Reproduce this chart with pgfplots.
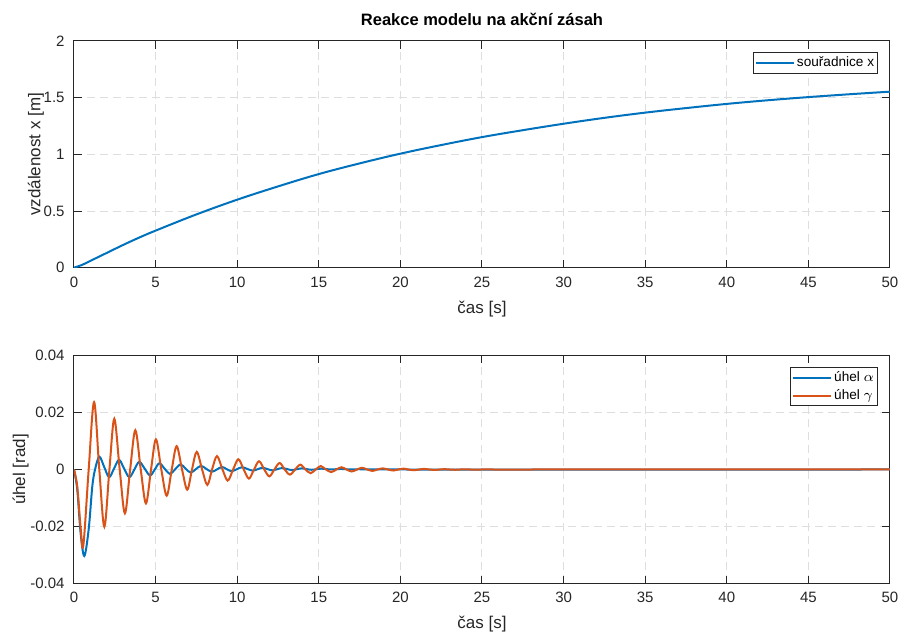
\documentclass[border=0pt]{standalone}
\usepackage{fontspec}
\setmainfont{Liberation Sans}
\usepackage{pgfplots}
\pgfplotsset{compat=1.18}
\definecolor{mblue}{RGB}{0,114,189}
\definecolor{morange}{RGB}{217,83,25}
\definecolor{axgray}{RGB}{38,38,38}
\definecolor{gridgray}{RGB}{222,222,222}
\pgfplotsset{
  mystyle/.style={
    scale only axis, width=408pt,
    xmin=0, xmax=50, xtick={0,5,...,50},
    grid=major,
    major grid style={dash pattern=on 4pt off 2.5pt, color=gridgray, line width=0.5pt},
    axis line style={axgray, line width=0.5pt},
    tick align=inside, major tick length=3.8pt,
    tick style={axgray, line width=0.5pt},
    ticklabel style={font=\fontsize{7.5}{9}\selectfont, text=axgray},
    xticklabel style={yshift=-1pt},
    yticklabel style={xshift=-1.2pt},
    scaled y ticks=false,
    /pgf/number format/assume math mode=true,
    every axis x label/.style={at={(rel axis cs:0.5,0)}, anchor=center, yshift=-20.5pt,
      font=\fontsize{8.5}{10}\selectfont, text=axgray},
    every axis y label/.style={at={(rel axis cs:0,0.5)}, rotate=90, anchor=center,
      font=\fontsize{8.5}{10}\selectfont, text=axgray},
    legend style={at={(rel axis cs:1,1)}, anchor=north east, xshift=-5.8pt, yshift=-5.6pt,
      draw=axgray, line width=0.5pt, font=\fontsize{6.8}{8}\selectfont, text=black,
      inner sep=1pt, row sep=0.6pt, nodes={inner sep=0.9pt}},
    legend image code/.code={\draw[#1, line width=1pt] (0pt,0pt) -- (19pt,0pt);},
    legend cell align=left,
    every axis plot/.append style={line width=1pt},
  }
}
\begin{document}
\begin{tikzpicture}
\path[use as bounding box] (-37pt,-183.65pt) rectangle (413.5pt,133.85pt);
\begin{axis}[mystyle, at={(0,0)}, anchor=south west, height=113.35pt,
  ymin=0, ymax=2, ytick={0,0.5,1,1.5,2},
  xlabel={čas [s]}, ylabel={vzdálenost x [m]}, ylabel style={yshift=19pt},
  title={Reakce modelu na akční zásah},
  title style={at={(0.5,1)}, anchor=base, yshift=1.8pt, font=\bfseries\fontsize{8.25}{10}\selectfont, text=black},
]
\addplot[mblue, smooth, tension=0.6] coordinates {
(0,0) (0.5,0.025) (1,0.06) (2,0.13) (3,0.2) (4,0.266) (5,0.327) (7.5,0.47) (10,0.600)
(12.5,0.717) (15,0.826) (17.5,0.92) (20,1.006) (22.5,1.082) (25,1.152) (27.5,1.213) (30,1.270)
(32.5,1.322) (35,1.368) (37.5,1.408) (40,1.445) (42.5,1.477) (45,1.505) (47.5,1.530) (50,1.553)};
\addlegendentry{souřadnice x}
\end{axis}
\begin{axis}[mystyle, at={(0,-157.8pt)}, anchor=south west, height=113.8pt,
  ymin=-0.04, ymax=0.04, ytick={-0.04,-0.02,0,0.02,0.04},
  yticklabels={-0.04,-0.02,0,0.02,0.04},
  xlabel={čas [s]}, ylabel={úhel [rad]}, ylabel style={yshift=26.7pt},
]
\addplot[mblue, smooth, tension=0.55] coordinates {
(0,0) (0.2,-0.007) (0.4,-0.022) (0.63,-0.0304) (0.9,-0.021) (1.12,-0.006) (1.29,0) (1.55,0.0045)
(1.85,0.0009) (2.15,-0.0027) (2.45,0.0003) (2.76,0.0034) (3.07,0.0003) (3.39,-0.0027) (3.7,0)
(4.0,0.0027) (4.33,0.0003) (4.66,-0.0021) (4.95,0) (5.23,0.0022) (5.55,0.0003) (5.88,-0.0015)
(6.2,0.0001) (6.53,0.0018) (6.84,0.0003) (7.15,-0.0011) (7.46,0.0001) (7.78,0.0013) (8.11,0.0002)
(8.44,-0.0008) (8.75,0) (9.07,0.0009) (9.36,0.0001) (9.66,-0.0006) (9.98,0.0001) (10.3,0.0008)
(10.62,0.0002) (10.95,-0.0004) (11.25,0.0001) (11.55,0.0006) (11.85,0.00015) (12.15,-0.0003)
(12.45,0.0001) (12.75,0.0005) (13.05,0.00015) (13.35,-0.0002) (13.65,0.0001) (13.95,0.0004)
(14.25,0.00015) (14.55,-0.0001) (14.85,0.0001) (15.15,0.0003) (15.45,0.00015) (15.75,0)
(16.05,0.0001) (16.35,0.0002) (16.65,0.0001) (16.95,0) (17.5,0.0001) (18.5,0.00005) (20,0) (50,0)};
\addlegendentry{úhel $\alpha$}
\addplot[morange, smooth, tension=0.55] coordinates {
(0,0) (0.2,-0.006) (0.4,-0.02) (0.57,-0.0268) (0.9,0) (1.23,0.0237) (1.55,0) (1.86,-0.0201)
(2.17,0) (2.47,0.0178) (2.8,0) (3.12,-0.0154) (3.44,0) (3.76,0.0138) (4.09,0) (4.41,-0.0119)
(4.72,0) (5.02,0.0106) (5.35,0) (5.68,-0.0092) (5.99,0) (6.29,0.0082) (6.62,0) (6.94,-0.0071)
(7.23,0) (7.52,0.0062) (7.85,0) (8.17,-0.0054) (8.46,0) (8.76,0.0047) (9.1,0) (9.42,-0.0039)
(9.75,0) (10.07,0.0036) (10.4,0) (10.72,-0.0032) (11.03,0) (11.34,0.0029) (11.66,0) (11.97,-0.0024)
(12.28,0) (12.6,0.0023) (12.91,0) (13.23,-0.0018) (13.55,0) (13.87,0.0017) (14.18,0) (14.5,-0.0013)
(14.81,0) (15.12,0.0012) (15.44,0) (15.76,-0.0009) (16.08,0) (16.39,0.0008) (16.7,0) (17.02,-0.0007)
(17.34,0) (17.66,0.0006) (17.97,0) (18.29,-0.0005) (18.6,0) (18.92,0.0004) (19.24,0) (19.56,-0.00035)
(19.87,0) (20.19,0.0003) (20.5,0) (20.82,-0.00025) (21.14,0) (21.45,0.0002) (21.77,0) (22.08,-0.00015)
(22.4,0) (22.72,0.00012) (23.03,0) (23.35,-0.0001) (23.66,0) (23.98,0.00008) (24.3,0) (24.61,-0.00005)
(24.93,0) (25.25,0.00003) (25.6,0) (30,0) (50,0)};
\addlegendentry{úhel $\gamma$}
\end{axis}
\end{tikzpicture}
\end{document}
